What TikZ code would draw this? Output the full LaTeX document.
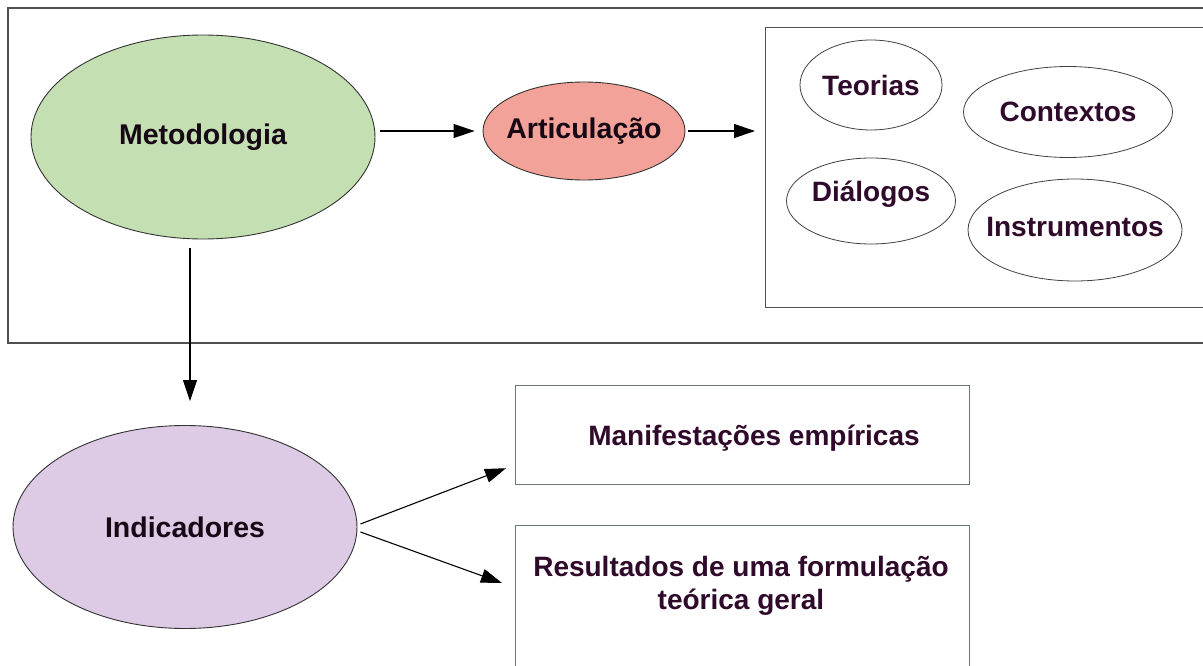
\documentclass[tikz,border=0pt]{standalone}
\usepackage{fontspec}
\setmainfont{Liberation Sans}
\usetikzlibrary{arrows.meta,shapes.geometric}
\definecolor{metgreen}{RGB}{196,223,177}
\definecolor{artred}{RGB}{243,162,153}
\definecolor{indlilac}{RGB}{221,202,228}
\definecolor{txtdark}{RGB}{22,8,20}
\definecolor{txtpurple}{RGB}{48,10,42}
\definecolor{framegray}{RGB}{80,80,80}
\definecolor{boxgreen}{RGB}{105,122,110}
\tikzset{
  big/.style={ellipse,draw=black!80,line width=0.9pt,inner sep=0pt,
    font=\fontsize{28.5}{33}\selectfont\bfseries,text=txtdark},
  small/.style={ellipse,draw=black!75,line width=0.8pt,inner sep=0pt,
    font=\fontsize{28}{33}\selectfont\bfseries,text=txtpurple},
  outbox/.style={rectangle,draw=boxgreen,line width=1.2pt,inner sep=0pt},
  arr/.style={-{Triangle[length=21pt,width=14pt]},line width=1.1pt,black},
  lbl/.style={font=\fontsize{28}{33}\selectfont\bfseries,text=txtpurple,align=center},
  blbl/.style={font=\fontsize{28.5}{33}\selectfont\bfseries,text=txtdark,align=center}
}
\begin{document}
\begin{tikzpicture}[x=1pt,y=-1pt]
\useasboundingbox (0,0) rectangle (1203,666);
\clip (0,0) rectangle (1203,666);
\fill[white] (0,0) rectangle (1203,666);
% outer frame
\draw[framegray,line width=1.4pt] (1215,8) -- (8,8) -- (8,343) -- (1215,343);
% inner box
\node[rectangle,draw=framegray,line width=1.2pt,minimum width=450pt,minimum height=280pt,anchor=north west] (pool) at (765,27) {};
% ellipses
\node[big,fill=metgreen,minimum width=344pt,minimum height=204pt] (met) at (203,137) {Metodologia};
\node[big,fill=artred,minimum width=202pt,minimum height=98pt] (art) at (584,131) {};
\node[blbl] (artt) at (584,131) {Articulação};
\node[big,fill=indlilac,minimum width=344pt,minimum height=203pt] (ind) at (185,527) {Indicadores};
\node[small,minimum width=142pt,minimum height=90pt] (teo) at (871,85) {Teorias};
\node[small,minimum width=209pt,minimum height=91pt] (ctx) at (1068,112) {Contextos};
\node[small,minimum width=169pt,minimum height=86pt] (dia) at (871,201) {};
\node[lbl] (diat) at (871,194) {Diálogos};
\node[small,minimum width=214pt,minimum height=102pt] (ins) at (1075,230) {};
\node[lbl] (inst) at (1075,227) {Instrumentos};
% lower boxes
\node[outbox,minimum width=454pt,minimum height=99pt,anchor=north west] (man) at (515,385) {};
\node[lbl] (mant) at (754,438) {Manifestações empíricas};
\node[outbox,minimum width=454pt,minimum height=170pt,anchor=north west] (res) at (515,525) {};
\node[lbl,anchor=north] (rest) at (741,553) {Resultados de uma formulação\\teórica geral};
% connectors
\coordinate (m1) at ([xshift=5pt,yshift=6pt]met.east);
\draw[arr] (m1) -- ([xshift=-8pt]art.west |- m1);
\draw[arr] ([xshift=3pt]art.east) -- ([xshift=-10pt]pool.west |- art.east);
\coordinate (m2) at ([xshift=-13pt,yshift=-9pt]met.south);
\coordinate (i2) at ([xshift=5pt,yshift=24pt]ind.north);
\draw[arr] (m2) -- (i2);
\coordinate (i3) at ([xshift=3pt,yshift=3pt]ind.east);
\coordinate (i4) at ([xshift=3pt,yshift=-5pt]ind.east);
\draw[arr] (i3) -- ([xshift=-9pt,yshift=17pt]man.south west);
\draw[arr] (i4) -- ([xshift=-13pt,yshift=-58pt]res.north west);
\end{tikzpicture}
\end{document}
